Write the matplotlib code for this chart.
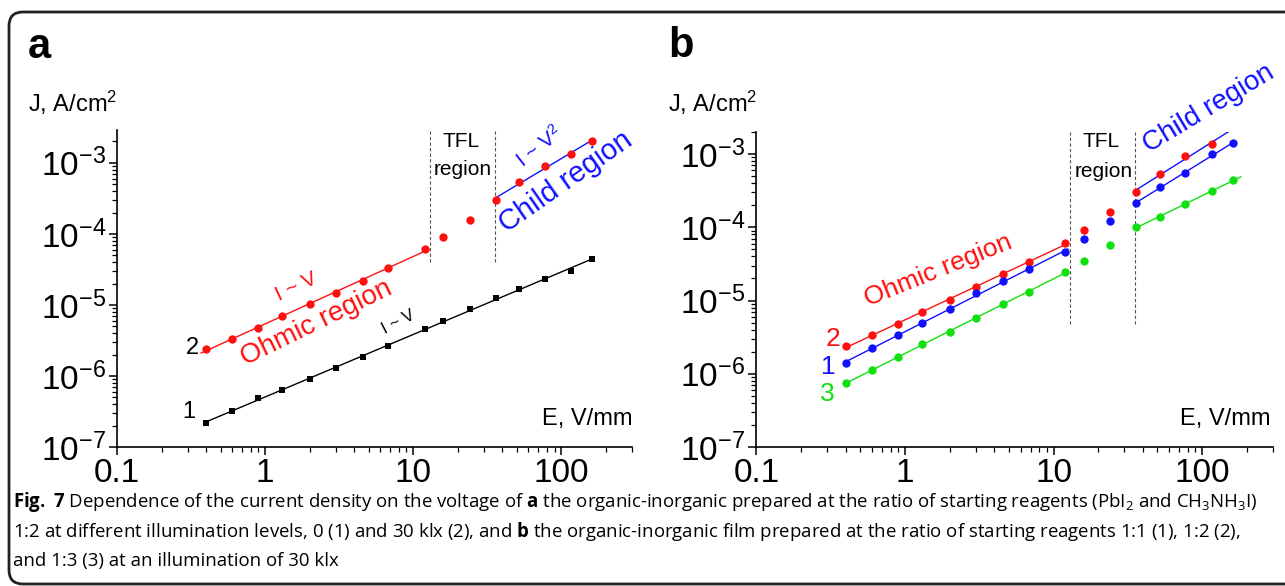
import numpy as np
import matplotlib
matplotlib.use('Agg')
import matplotlib.pyplot as plt
from matplotlib.patches import FancyBboxPatch
from matplotlib.transforms import IdentityTransform
from matplotlib.ticker import LogLocator, FuncFormatter, NullFormatter

plt.rcParams['font.family'] = ['Liberation Sans', 'DejaVu Sans']
plt.rcParams['mathtext.fontset'] = 'custom'
plt.rcParams['mathtext.default'] = 'regular'
plt.rcParams['mathtext.bf'] = 'Open Sans:bold'

# field strength, V/mm
E = [0.4, 0.6, 0.9, 1.3, 2, 3, 4.6, 6.8, 12, 16, 24, 36, 52, 77, 117, 162]

# panel a: 0 klx (1) and 30 klx (2)
J_a1 = [2.2e-7, 3.25e-7, 4.85e-7, 6.35e-7, 9.1e-7, 1.3e-6, 1.87e-6, 2.67e-6,
        4.55e-6, 6.0e-6, 8.7e-6, 1.24e-5, 1.7e-5, 2.35e-5, 3.04e-5, 4.4e-5]
J_a2 = [2.38e-6, 3.35e-6, 4.74e-6, 7.0e-6, 1.02e-5, 1.49e-5, 2.18e-5, 3.35e-5,
        6.1e-5, 8.9e-5, 1.57e-4, 3.01e-4, 5.3e-4, 9.1e-4, 1.33e-3, 2.06e-3]

# panel b: ratios 1:1 (1), 1:2 (2), 1:3 (3)
E_b2 = E[:-1]
J_b2 = [2.39e-6, 3.35e-6, 4.78e-6, 7.0e-6, 1.03e-5, 1.51e-5, 2.28e-5, 3.35e-5,
        6.15e-5, 9.1e-5, 1.6e-4, 3.06e-4, 5.4e-4, 9.3e-4, 1.37e-3]
J_b1 = [1.39e-6, 2.23e-6, 3.38e-6, 4.98e-6, 7.66e-6, 1.25e-5, 1.85e-5, 2.67e-5,
        4.55e-5, 6.98e-5, 1.23e-4, 2.12e-4, 3.58e-4, 5.56e-4, 9.9e-4, 1.4e-3]
J_b3 = [7.4e-7, 1.12e-6, 1.71e-6, 2.55e-6, 3.75e-6, 5.71e-6, 8.96e-6, 1.32e-5,
        2.43e-5, 3.43e-5, 5.73e-5, 1.01e-4, 1.38e-4, 2.06e-4, 3.13e-4, 4.42e-4]

tfl_edges = [12.9, 35.5]

RED, BLUE, GREEN = '#ff1010', '#1010ff', '#10e010'


def fit_line(ax, x, y, lo, hi, x0, x1, color):
    x = np.asarray(x); y = np.asarray(y)
    m = (x >= lo) & (x <= hi)
    p = np.polyfit(np.log10(x[m]), np.log10(y[m]), 1)
    xs = np.array([x0, x1])
    ax.plot(xs, 10 ** np.polyval(p, np.log10(xs)), color=color, lw=1.0)


def style_axes(ax, ytop):
    ax.set_xscale('log'); ax.set_yscale('log')
    ax.set_xlim(0.1, 300)
    ax.set_ylim(1e-7, ytop)
    for s in ['top', 'right']:
        ax.spines[s].set_visible(False)
    for s in ['left', 'bottom']:
        ax.spines[s].set_linewidth(1.2)
    ax.xaxis.set_major_locator(LogLocator(10, numticks=10))
    ax.xaxis.set_minor_locator(LogLocator(10, subs=np.arange(2, 10), numticks=10))
    ax.yaxis.set_major_locator(LogLocator(10, numticks=10))
    ax.yaxis.set_minor_locator(LogLocator(10, subs=np.arange(2, 10), numticks=10))
    ax.xaxis.set_major_formatter(FuncFormatter(lambda v, p: '%g' % v))
    ax.xaxis.set_minor_formatter(NullFormatter())
    ax.yaxis.set_minor_formatter(NullFormatter())
    ax.tick_params(which='major', length=6, width=1.1, labelsize=24, pad=2)
    ax.tick_params(which='minor', length=3.5, width=0.9)
    ax.patch.set_alpha(0)


fig = plt.figure(figsize=(12.85, 5.86), dpi=100)
ax1 = fig.add_axes([117 / 1285, 139 / 586, 515 / 1285, 317 / 586])
ax2 = fig.add_axes([756.4 / 1285, 139 / 586, 516.6 / 1285, 315 / 586])
style_axes(ax1, 2.9e-3)
style_axes(ax2, 2.0e-3)

# ---- panel a
ax1.vlines(tfl_edges, 4.0e-5, 2.9e-3, colors='#555555', linestyles=(0, (3, 2)), lw=0.8)
fit_line(ax1, E, J_a1, 0, 1000, 0.4, 165, 'black')
fit_line(ax1, E, J_a2, 0, 12.5, 0.37, 12.7, RED)
fit_line(ax1, E, J_a2, 35, 1000, 36, 162, BLUE)
ax1.plot(E, J_a1, 's', color='black', ms=4.5, mew=0)
ax1.plot(E, J_a2, 'o', color=RED, ms=6, mew=0)

ax1.text(20.9, 2.0e-3, 'TFL', fontsize=15, ha='center', va='center')
ax1.text(21.5, 8.0e-4, 'region', fontsize=15, ha='center', va='center')
ax1.text(71, 1.7e-3, r'I ~ V$^2$', fontsize=15, color=BLUE, rotation=38,
         ha='center', va='center', rotation_mode='anchor')
ax1.text(107, 5.4e-4, 'Child region', fontsize=21, color=BLUE, rotation=35,
         ha='center', va='center', rotation_mode='anchor')
ax1.text(1.62, 1.81e-5, 'I ~ V', fontsize=15, color=RED, rotation=25,
         ha='center', va='center', rotation_mode='anchor')
ax1.text(2.21, 5.6e-6, 'Ohmic region', fontsize=20, color=RED, rotation=26,
         ha='center', va='center', rotation_mode='anchor')
ax1.text(7.95, 5.8e-6, 'I ~ V', fontsize=12, color='black', rotation=27,
         ha='center', va='center', rotation_mode='anchor')
ax1.text(0.325, 2.45e-6, '2', fontsize=17, ha='center', va='center')
ax1.text(0.304, 3.1e-7, '1', fontsize=17, ha='center', va='center')

# ---- panel b
ax2.vlines(tfl_edges, 4.8e-6, 2.0e-3, colors='#555555', linestyles=(0, (3, 2)), lw=0.8)
fit_line(ax2, E_b2, J_b2, 0, 12.5, 0.39, 12.5, RED)
fit_line(ax2, E, J_b1, 0, 12.5, 0.39, 12.5, BLUE)
fit_line(ax2, E, J_b3, 0, 12.5, 0.39, 12.5, GREEN)
fit_line(ax2, E_b2, J_b2, 35, 1000, 36, 160, BLUE)
fit_line(ax2, E, J_b1, 35, 1000, 36, 162, BLUE)
fit_line(ax2, E, J_b3, 35, 1000, 36, 182, GREEN)
ax2.plot(E_b2, J_b2, 'o', color=RED, ms=6, mew=0)
ax2.plot(E, J_b1, 'o', color=BLUE, ms=6, mew=0)
ax2.plot(E, J_b3, 'o', color=GREEN, ms=6, mew=0)

ax2.text(20.9, 1.47e-3, 'TFL', fontsize=15, ha='center', va='center')
ax2.text(21.9, 5.7e-4, 'region', fontsize=15, ha='center', va='center')
ax2.text(110, 4.1e-3, 'Child region', fontsize=20, color=BLUE, rotation=31,
         ha='center', va='center', rotation_mode='anchor')
ax2.text(1.68, 2.6e-5, 'Ohmic region', fontsize=19, color=RED, rotation=22,
         ha='center', va='center', rotation_mode='anchor')
ax2.text(0.33, 2.95e-6, '2', fontsize=19, color=RED, ha='center', va='center')
ax2.text(0.305, 1.25e-6, '1', fontsize=19, color=BLUE, ha='center', va='center')
ax2.text(0.298, 5.3e-7, '3', fontsize=19, color=GREEN, ha='center', va='center')

# ---- axis titles and panel letters
for x0, xr in [(28, 632), (668, 1271)]:
    fig.text(x0 / 1285, 1 - 103 / 586, r'J, A/cm$^2$', fontsize=17, ha='left', va='center')
    fig.text(xr / 1285, 1 - 419 / 586, 'E, V/mm', fontsize=17, ha='right', va='center')
fig.text(39 / 1285, 1 - 47 / 586, 'a', fontsize=30, fontweight='bold', ha='center', va='center')
fig.text(681 / 1285, 1 - 46 / 586, 'b', fontsize=30, fontweight='bold', ha='center', va='center')

# ---- caption
cap = [r"$\mathbf{Fig.}$ $\mathbf{7}$ Dependence of the current density on the voltage of $\mathbf{a}$ the "
       r"organic-inorganic prepared at the ratio of starting reagents (PbI$_2$ and CH$_3$NH$_3$I)",
       r"1:2 at different illumination levels, 0 (1) and 30 klx (2), and $\mathbf{b}$ the organic-inorganic film "
       r"prepared at the ratio of starting reagents 1:1 (1), 1:2 (2),",
       "and 1:3 (3) at an illumination of 30 klx"]
for i, line in enumerate(cap):
    fig.text(13 / 1285, 1 - (502 + 29.5 * i) / 586, line, fontsize=13.4,
             family=['Open Sans', 'DejaVu Sans'], ha='left', va='center')

# ---- rounded frame
frame = FancyBboxPatch((9, 2), 1320, 572, boxstyle='round,pad=0,rounding_size=14',
                       transform=IdentityTransform(), fill=False, lw=2, ec='#222222')
fig.patches.append(frame)

fig.savefig('out.png', dpi=100)
